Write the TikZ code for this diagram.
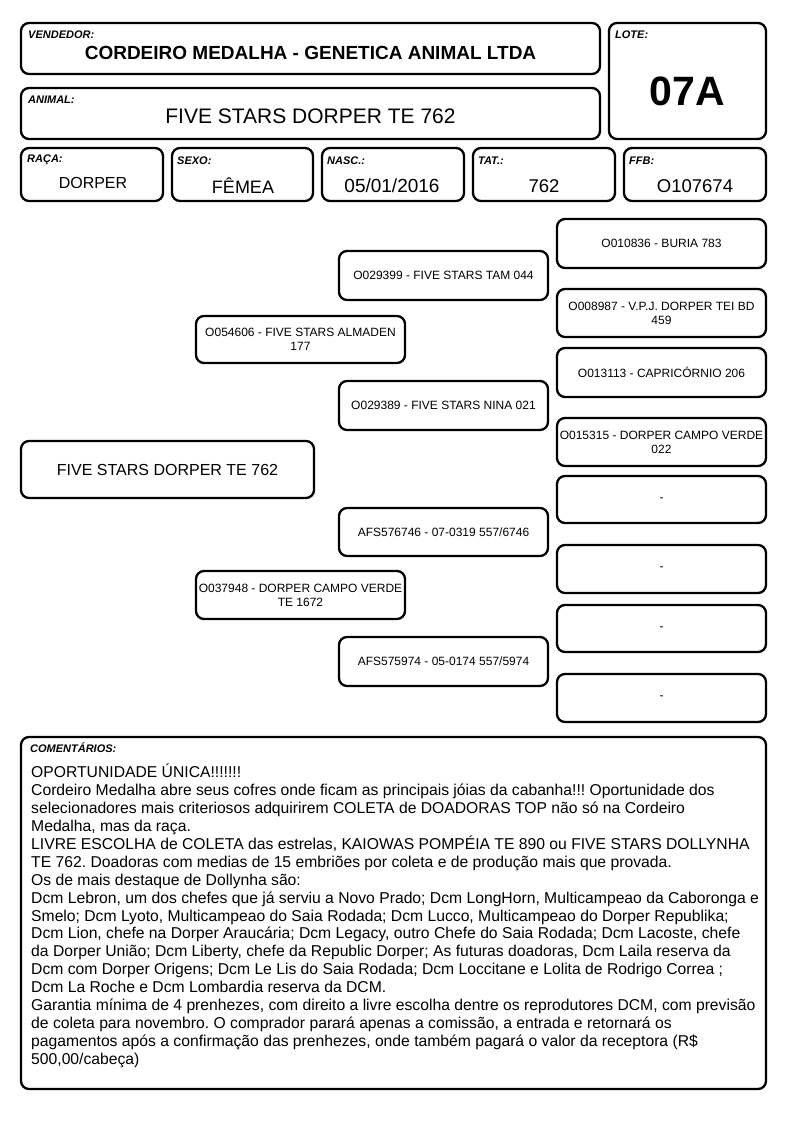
\documentclass[tikz,border=0pt]{standalone}
\usepackage{fontspec}
\setmainfont{Liberation Sans}
\frenchspacing
\begin{document}
\begin{tikzpicture}[x=1pt,y=-1pt,
  box/.style={draw=black,line width=2.3pt,rounded corners=8pt,inner sep=0pt,outer sep=0pt},
  lbl/.style={font=\fontsize{11}{12}\selectfont\bfseries\itshape,anchor=west,inner sep=0pt},
  ped/.style={font=\fontsize{12}{14}\selectfont,align=center,inner sep=0pt},
  val/.style={font=\fontsize{18.5}{20}\selectfont,inner sep=0pt}]
\useasboundingbox (0,0) rectangle (794,1123);
% header boxes
\node[box,minimum width=579pt,minimum height=51pt] (vend) at (310.5,48.5) {};
\node[box,minimum width=157pt,minimum height=116pt] (lote) at (687.5,81) {};
\node[box,minimum width=579pt,minimum height=51pt] (anim) at (310.5,113.5) {};
\node[lbl] (vendl) at (28,35) {VENDEDOR:};
\node[lbl] (lotel) at (615,35) {LOTE:};
\node[lbl] (animl) at (28,100) {ANIMAL:};
\node[inner sep=0pt,font=\fontsize{19}{21}\selectfont\bfseries] (vendt) at (310.5,53) {CORDEIRO MEDALHA - GENETICA ANIMAL LTDA};
\node[inner sep=0pt,font=\fontsize{41}{46}\selectfont\bfseries] (lotet) at (687.5,91) {07A};
\node[inner sep=0pt,font=\fontsize{21}{23}\selectfont] (animt) at (310.5,116) {FIVE STARS DORPER TE 762};
% row
\node[box,minimum width=142pt,minimum height=53pt] (raca) at (92,174.5) {};
\node[box,minimum width=141pt,minimum height=53pt] (sexo) at (242.5,174.5) {};
\node[box,minimum width=142pt,minimum height=53pt] (nasc) at (393,174.5) {};
\node[box,minimum width=142pt,minimum height=53pt] (tat) at (544,174.5) {};
\node[box,minimum width=142pt,minimum height=53pt] (ffb) at (695,174.5) {};
\node[lbl] (racal) at (27,160) {RAÇA:};
\node[lbl] (sexol) at (177,161) {SEXO:};
\node[lbl] (nascl) at (327,161) {NASC.:};
\node[lbl] (tatl) at (478,161) {TAT.:};
\node[lbl] (ffbl) at (629,161) {FFB:};
\node[val,font=\fontsize{16}{18}\selectfont] (racav) at (93,183) {DORPER};
\node[val,font=\fontsize{18}{20}\selectfont] (sexov) at (243,186) {FÊMEA};
\node[val,font=\fontsize{19}{21}\selectfont] (nascv) at (392,186) {05/01/2016};
\node[val] (tatv) at (544,186) {762};
\node[val] (ffbv) at (695,186) {O107674};
% pedigree
\node[box,minimum width=293pt,minimum height=57pt,font=\fontsize{16}{18}\selectfont] (main) at (167.5,469.5) {FIVE STARS DORPER TE 762};
\node[box,ped,minimum width=209pt,minimum height=47pt] (p) at (300.5,339.5) {O054606 - FIVE STARS ALMADEN\\177};
\node[box,ped,minimum width=209pt,minimum height=48pt] (m) at (300.5,595) {O037948 - DORPER CAMPO VERDE\\TE 1672};
\node[box,ped,minimum width=209pt,minimum height=49pt] (pp) at (443.5,275.5) {O029399 - FIVE STARS TAM 044};
\node[box,ped,minimum width=209pt,minimum height=49pt] (pm) at (443.5,405.5) {O029389 - FIVE STARS NINA 021};
\node[box,ped,minimum width=209pt,minimum height=48pt] (mp) at (443.5,532) {AFS576746 - 07-0319 557/6746};
\node[box,ped,minimum width=209pt,minimum height=49pt] (mm) at (443.5,661.5) {AFS575974 - 05-0174 557/5974};
\node[box,ped,minimum width=209pt,minimum height=49pt] (ppp) at (661.5,243.5) {O010836 - BURIA 783};
\node[box,ped,minimum width=209pt,minimum height=48pt] (ppm) at (661.5,313) {O008987 - V.P.J. DORPER TEI BD\\459};
\node[box,ped,minimum width=209pt,minimum height=49pt] (pmp) at (661.5,372.5) {O013113 - CAPRICÓRNIO 206};
\node[box,ped,minimum width=209pt,minimum height=48pt] (pmm) at (661.5,442) {O015315 - DORPER CAMPO VERDE\\022};
\node[box,ped,minimum width=209pt,minimum height=47pt] (mpp) at (661.5,499.5) {-};
\node[box,ped,minimum width=209pt,minimum height=48pt] (mpm) at (661.5,569) {-};
\node[box,ped,minimum width=209pt,minimum height=47pt] (mmp) at (661.5,628.5) {-};
\node[box,ped,minimum width=209pt,minimum height=48pt] (mmm) at (661.5,698) {-};
% comments
\node[box,minimum width=745pt,minimum height=352pt] (com) at (393.5,913) {};
\node[lbl] (coml) at (30,748) {COMENTÁRIOS:};
\node[anchor=north west,inner sep=0pt,align=left,font=\fontsize{15.7}{17.9}\selectfont] (comt) at (31,764) {OPORTUNIDADE ÚNICA!!!!!!!\\
Cordeiro Medalha abre seus cofres onde ficam as principais jóias da cabanha!!! Oportunidade dos\\
selecionadores mais criteriosos adquirirem COLETA de DOADORAS TOP não só na Cordeiro\\
Medalha, mas da raça.\\
LIVRE ESCOLHA de COLETA das estrelas, KAIOWAS POMPÉIA TE 890 ou FIVE STARS DOLLYNHA\\
TE 762. Doadoras com medias de 15 embriões por coleta e de produção mais que provada.\\
Os de mais destaque de Dollynha são:\\
Dcm Lebron, um dos chefes que já serviu a Novo Prado; Dcm LongHorn, Multicampeao da Caboronga e\\
Smelo; Dcm Lyoto, Multicampeao do Saia Rodada; Dcm Lucco, Multicampeao do Dorper Republika;\\
Dcm Lion, chefe na Dorper Araucária; Dcm Legacy, outro Chefe do Saia Rodada; Dcm Lacoste, chefe\\
da Dorper União; Dcm Liberty, chefe da Republic Dorper; As futuras doadoras, Dcm Laila reserva da\\
Dcm com Dorper Origens; Dcm Le Lis do Saia Rodada; Dcm Loccitane e Lolita de Rodrigo Correa ;\\
Dcm La Roche e Dcm Lombardia reserva da DCM.\\
Garantia mínima de 4 prenhezes, com direito a livre escolha dentre os reprodutores DCM, com previsão\\
de coleta para novembro. O comprador parará apenas a comissão, a entrada e retornará os\\
pagamentos após a confirmação das prenhezes, onde também pagará o valor da receptora (R\$\\
500,00/cabeça)};
\end{tikzpicture}
\end{document}
